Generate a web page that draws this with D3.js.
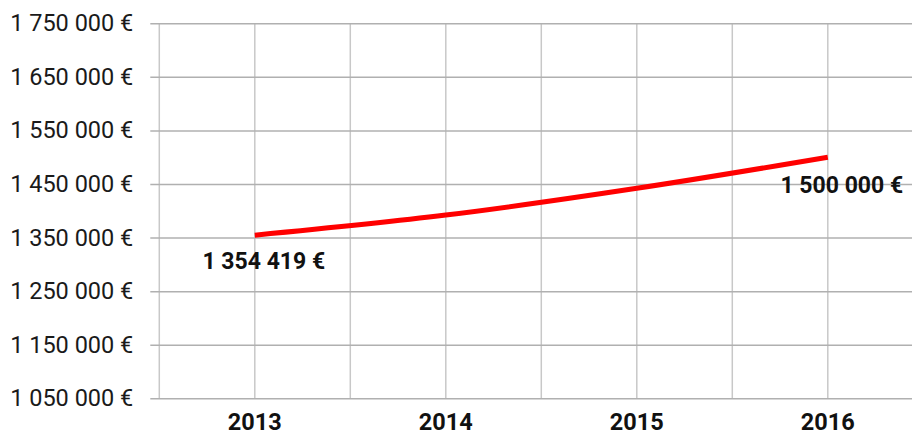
<!DOCTYPE html>
<html><head><meta charset="utf-8">
<script src="https://cdn.jsdelivr.net/npm/d3@7"></script>
<style>
html,body{margin:0;padding:0;background:#fff;}
svg{display:block;font-family:Roboto, "Liberation Sans", sans-serif;}
</style></head>
<body>
<svg id="chart" width="912" height="435"></svg>
<script>
const years = ["2013", "2014", "2015", "2016"];
const values = [1354419, 1392000, 1442000, 1500000];
const yTicks = [1050000, 1150000, 1250000, 1350000, 1450000, 1550000, 1650000, 1750000];
const labelled = [0, 3];

const W = 912, H = 435;
const svg = d3.select("#chart");
const plotLeft = 159.3, plotTop = 23.3, plotBottom = 398.3, bandW = 191;

const x = d3.scaleBand().domain(years).range([plotLeft, plotLeft + bandW * years.length]).padding(0);
const cx = d => x(d) + x.bandwidth() / 2;
const y = d3.scaleLinear().domain([1050000, 1750000]).range([plotBottom, plotTop]);

const fmt = v => d3.format(",")(v).replace(/,/g, " ") + " €";

// vertical gridlines: band edges and centers
const vx = [];
years.forEach(d => { vx.push(x(d)); vx.push(cx(d)); });
vx.push(x(years[years.length - 1]) + x.bandwidth());
svg.append("g").selectAll("line").data(vx).join("line")
  .attr("x1", d => d).attr("x2", d => d)
  .attr("y1", plotTop).attr("y2", plotBottom)
  .attr("stroke", "#c8c8c8").attr("stroke-width", 1.5);

// horizontal gridlines via axis
const yAxis = d3.axisLeft(y).tickValues(yTicks).tickFormat(fmt)
  .tickSize(-(W - plotLeft)).tickPadding(26);
const gy = svg.append("g").attr("transform", `translate(${plotLeft},0)`).call(yAxis);
gy.select(".domain").remove();
gy.selectAll(".tick line").attr("x1", -9).attr("stroke", "#b0b0b0").attr("stroke-width", 1.5);
gy.selectAll(".tick text").attr("font-size", "23.5px").attr("fill", "#1a1a1a")
  .attr("font-family", "Roboto, sans-serif");

// x labels
svg.append("g").selectAll("text").data(years).join("text")
  .attr("x", d => cx(d)).attr("y", 430)
  .attr("text-anchor", "middle").attr("font-size", "23.5px").attr("font-weight", "bold")
  .attr("fill", "#111").text(d => d);

// line
const line = d3.line().x((d, i) => cx(years[i])).y(d => y(d)).curve(d3.curveCatmullRom.alpha(0.5));
svg.append("path").datum(values).attr("d", line)
  .attr("fill", "none").attr("stroke", "#ff0000").attr("stroke-width", 5)
  .attr("stroke-linecap", "butt");

// data labels
const offs = {0: [9, 34], 3: [14, 36]};
svg.append("g").selectAll("text").data(labelled).join("text")
  .attr("x", i => cx(years[i]) + offs[i][0]).attr("y", i => y(values[i]) + offs[i][1])
  .attr("text-anchor", "middle").attr("font-size", "23px").attr("font-weight", "bold")
  .attr("fill", "#111").text(i => fmt(values[i]));
</script>
</body></html>
